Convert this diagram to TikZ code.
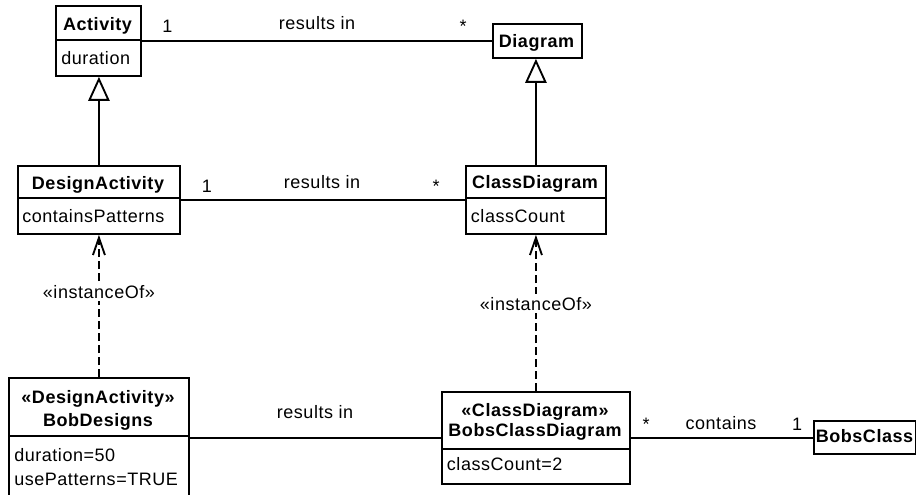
\documentclass[tikz,border=0pt]{standalone}
\usepackage{fontspec}
\setmainfont{Liberation Sans}[LetterSpace=3]
\usetikzlibrary{arrows.meta}
\begin{document}
\begin{tikzpicture}[x=0.75pt,y=-0.75pt,
  classbox/.style={draw, line width=1.4pt, inner sep=0pt, anchor=north west, fill=white},
  txt/.style={inner sep=0pt, anchor=base, font=\fontsize{13.5}{16}\selectfont},
  ltxt/.style={txt, anchor=base west},
  htxt/.style={txt, font=\fontsize{13.5}{16}\selectfont\bfseries},
  conn/.style={line width=1.4pt},
  inherits/.style={conn, -{Triangle[open, length=18pt, width=16pt, fill=white]}},
  instof/.style={conn, dash pattern=on 6pt off 3pt, -{Straight Barb[length=13pt, width=9pt]}},
  stereo/.style={inner sep=2pt, fill=white, font=\fontsize{13.5}{16}\selectfont},
]
\useasboundingbox (0,0) rectangle (916,495);
\clip (0,0) rectangle (916,495);

% class boxes
\node[classbox, minimum width=63.75pt, minimum height=52.5pt]  (act)  at (55,5)   {};
\node[classbox, minimum width=66.75pt, minimum height=25.5pt]  (diag) at (492,23) {};
\node[classbox, minimum width=121.5pt, minimum height=51pt]    (da)   at (17,165) {};
\node[classbox, minimum width=105pt,   minimum height=51pt]    (cd)   at (465,165) {};
\node[classbox, minimum width=135pt,   minimum height=92.25pt] (bd)   at (8,377)  {};
\node[classbox, minimum width=141pt,   minimum height=69pt]    (bcd)  at (441,391) {};
\node[classbox, minimum width=76.5pt,  minimum height=24.75pt] (bc)   at (813,420) {};

% compartment dividers
\draw[conn] (act.west |- 0,40)  -- (act.east |- 0,40);
\draw[conn] (da.west |- 0,198)  -- (da.east |- 0,198);
\draw[conn] (cd.west |- 0,198)  -- (cd.east |- 0,198);
\draw[conn] (bd.west |- 0,436)  -- (bd.east |- 0,436);
\draw[conn] (bcd.west |- 0,449) -- (bcd.east |- 0,449);

% names and attributes
\node[htxt] at (97.5,30.7) {Activity};
\node[ltxt] at (61,65) {duration};
\node[htxt] at (536.5,47.3) {Diagram};
\node[htxt] at (98,189.5) {DesignActivity};
\node[ltxt] at (22,222.7) {containsPatterns};
\node[htxt] at (535,189) {ClassDiagram};
\node[ltxt] at (470.7,222.7) {classCount};
\node[htxt] at (98,403) {«DesignActivity»};
\node[htxt] at (98,426.7) {BobDesigns};
\node[ltxt] at (14,461.7) {duration=50};
\node[ltxt] at (14,485) {usePatterns=TRUE};
\node[htxt] at (535,416.7) {«ClassDiagram»};
\node[htxt] at (535,436.7) {BobsClassDiagram};
\node[ltxt] at (446.7,470) {classCount=2};
\node[htxt] at (864.5,442) {BobsClass};

% generalizations
\draw[inherits] (da.north) -- (da.north |- act.south);
\draw[inherits] (cd.north) -- (cd.north |- diag.south);

% instance-of dependencies
\draw[instof] (bd.north) -- node[stereo, pos=0.6] {«instanceOf»} (bd.north |- da.south);
\draw[instof] (bcd.north) -- node[stereo, pos=0.56] {«instanceOf»} (bcd.north |- cd.south);

% associations
\draw[conn] (act.east) -- (diag.west);
\node[txt] at (167.5,33) {1};
\node[txt] at (317,29.5) {results in};
\node[txt] at (463,33) {*};

\draw[conn] (da.east) -- (cd.west);
\node[txt] at (207,193) {1};
\node[txt] at (322,189) {results in};
\node[txt] at (436,193) {*};

\draw[conn] (bcd.west) -- (bcd.west -| bd.east);
\node[txt] at (315,418) {results in};

\draw[conn] (bcd.east) -- (bcd.east -| bc.west);
\node[txt] at (646,430) {*};
\node[txt] at (721,429) {contains};
\node[txt] at (797,430) {1};
\end{tikzpicture}
\end{document}
